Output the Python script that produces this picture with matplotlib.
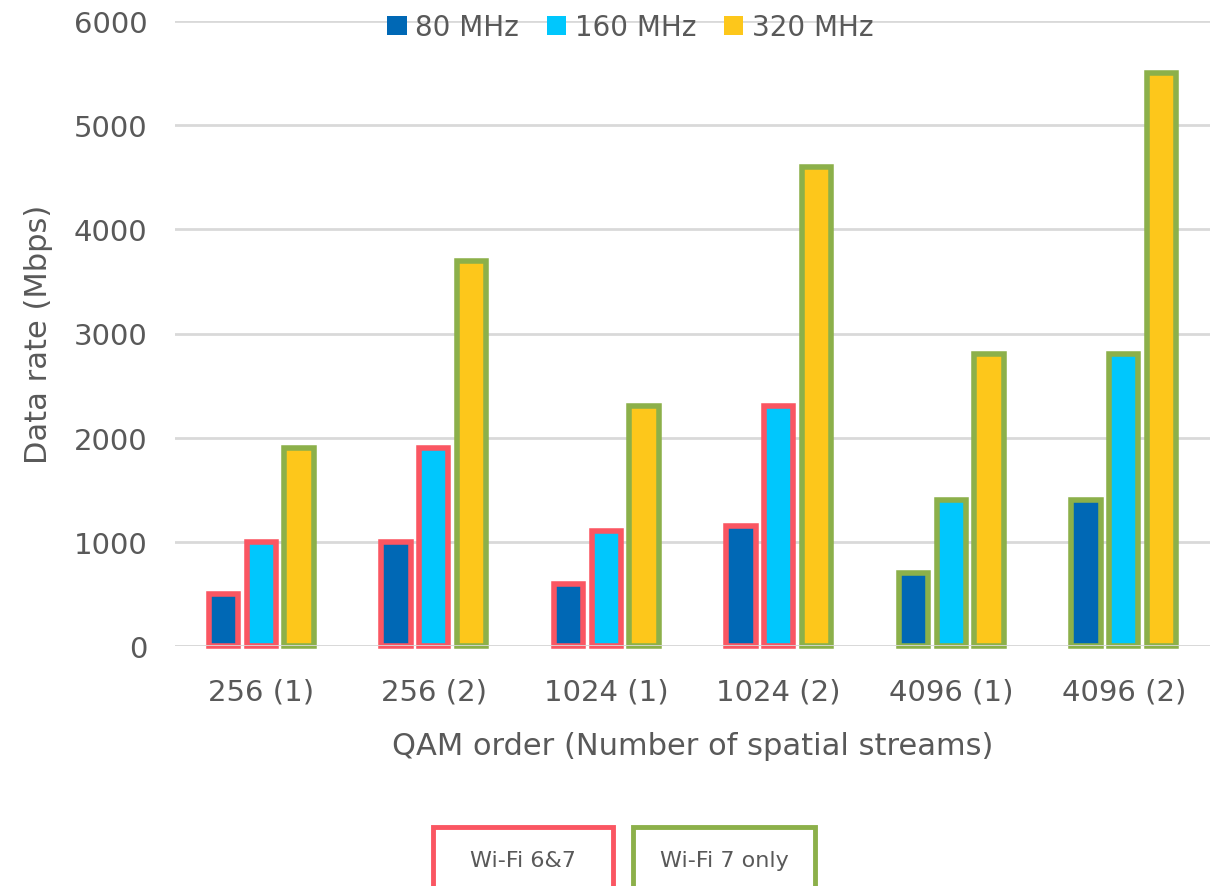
import numpy as np
import matplotlib
matplotlib.use("Agg")
import matplotlib.pyplot as plt
from matplotlib.patches import Patch, Rectangle

plt.rcParams['font.family'] = ['DejaVu Sans']

# data
groups = ["256 (1)", "256 (2)", "1024 (1)", "1024 (2)", "4096 (1)", "4096 (2)"]
series = ["80 MHz", "160 MHz", "320 MHz"]
rate_80 = [500, 1000, 600, 1150, 700, 1400]
rate_160 = [1000, 1900, 1100, 2300, 1400, 2800]
rate_320 = [1900, 3700, 2300, 4600, 2800, 5500]
# which bars are Wi-Fi 6&7 (True) vs Wi-Fi 7 only (False)
wifi6_80 = [True, True, True, True, False, False]
wifi6_160 = [True, True, True, True, False, False]
wifi6_320 = [False, False, False, False, False, False]

fills = ["#0068B5", "#00C7FD", "#FDC71B"]
red = "#FA5662"
green = "#8CB04A"
txt = "#595959"

fig = plt.figure(figsize=(12.13, 8.87), dpi=100)
ax = fig.add_axes([175/1213, 1-647/887, 1035/1213, 625/887])

x = np.arange(len(groups))
offs = [-0.22, 0.0, 0.22]
w = 0.171
for vals, flags, fc, off in zip([rate_80, rate_160, rate_320],
                                [wifi6_80, wifi6_160, wifi6_320], fills, offs):
    ec = [red if f else green for f in flags]
    ax.bar(x + off, vals, width=w, color=fc, edgecolor=ec, linewidth=4.0,
           zorder=2, clip_on=False)

ax.axhline(0, color="#D9D9D9", linewidth=2, zorder=3)
ax.set_xlim(-0.5, 5.5)
ax.set_ylim(0, 6000)
ax.set_yticks(range(0, 6001, 1000))
ax.yaxis.grid(True, color="#D9D9D9", linewidth=2, zorder=0)
ax.set_axisbelow(True)
for s in ax.spines.values():
    s.set_visible(False)
ax.tick_params(length=0, labelsize=21, labelcolor=txt)
ax.tick_params(axis='y', pad=20)
ax.tick_params(axis='x', pad=23)
ax.set_xticks(x)
ax.set_xticklabels(groups)
ax.set_xlabel("QAM order (Number of spatial streams)", fontsize=22, color=txt, labelpad=18)
ax.set_ylabel("Data rate (Mbps)", fontsize=22, color=txt)
ax.yaxis.set_label_coords(-0.118, 0.5)

handles = [Patch(facecolor=c, edgecolor='none') for c in fills]
leg = ax.legend(handles, series, loc="center", bbox_to_anchor=(0.44, 0.99), ncol=3,
                frameon=False, fontsize=20, handlelength=0.7, handleheight=0.7,
                handletextpad=0.3, columnspacing=1.0)
for t in leg.get_texts():
    t.set_color(txt)

# bottom legend boxes
for x0, x1, col, label in [(433, 613, red, "Wi-Fi 6&7"), (633, 815, green, "Wi-Fi 7 only")]:
    fig.patches.append(Rectangle((x0/1213, -0.05), (x1-x0)/1213, 0.05 + 1-828/887,
                                 transform=fig.transFigure, facecolor="white",
                                 edgecolor=col, linewidth=3.5))
    fig.text((x0+x1)/2/1213, 1-861/887, label, ha="center", va="center",
             fontsize=16, color=txt)

fig.savefig("out.png", dpi=100)
